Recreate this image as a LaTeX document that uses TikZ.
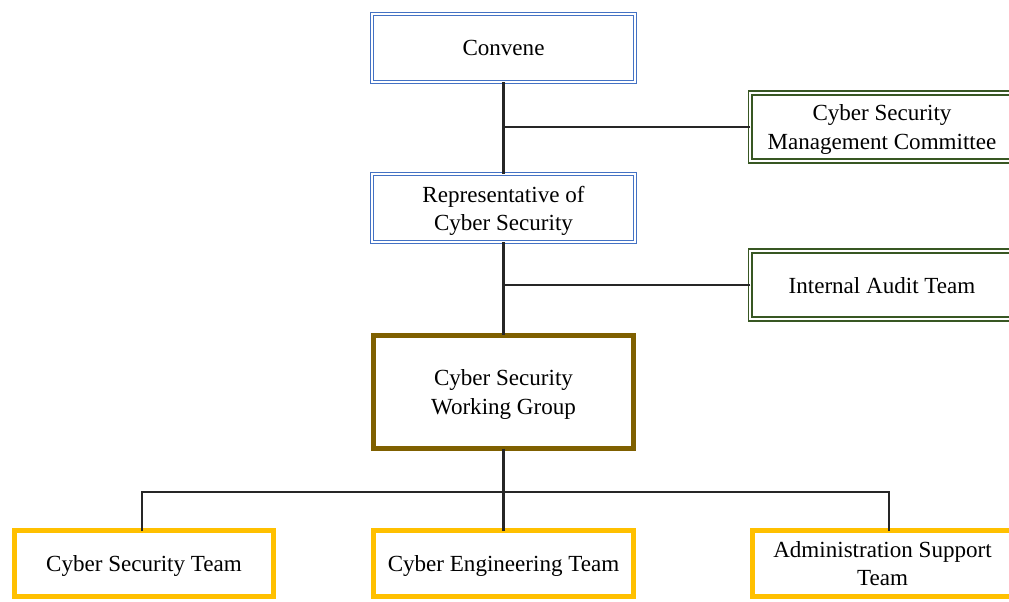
\documentclass[tikz,border=0pt]{standalone}
\usepackage{fontspec}
\setmainfont{Liberation Serif}
\usetikzlibrary{calc,positioning}
\definecolor{boardblue}{HTML}{4472C4}
\definecolor{boardgreen}{HTML}{385723}
\definecolor{groupbrown}{HTML}{7F6000}
\definecolor{teamyellow}{HTML}{FFC000}
\definecolor{linkgray}{HTML}{262626}

\begin{document}
\begin{tikzpicture}[x=0.025cm, y=-0.025cm,
		font=\fontsize{16.4}{20}\selectfont,
		every node/.style={align=center, inner sep=0pt, outer sep=0pt, fill=white},
		boardbox/.style={draw=boardblue, double=white, line width=0.9pt, double distance=1.4pt,
			minimum width=6.58cm, minimum height=1.7cm, text depth=-0.1cm},
		sidebox/.style={boardbox, draw=boardgreen, line width=1.1pt},
		groupbox/.style={draw=groupbrown, line width=3.6pt, minimum width=6.5cm, minimum height=2.83cm,
			text depth=-0.12cm},
		teambox/.style={draw=teamyellow, line width=3.6pt, minimum width=6.48cm, minimum height=1.65cm,
			text depth=-0.12cm},
		link/.style={draw=linkgray, line width=1.8pt}]
		\useasboundingbox (0,0) rectangle (1009,601);
		\clip (0,0) rectangle (1009,601);
		\coordinate (bus) at (503.5,492);
		\node[boardbox] (conv) at (503.5,48) {Convene};
		\node[boardbox] (rep) at (503.5,208) {Representative of\\Cyber Security};
		\node[sidebox] (csmc) at (882,127) {Cyber Security\\Management Committee};
		\node[sidebox] (audit) at (882,285) {Internal Audit Team};
		\node[groupbox] (wg) at (503.5,392) {Cyber Security\\Working Group};
		\node[teambox] (cst) at (144,563.5) {Cyber Security Team};
		\node[teambox] (cet) at (503.5,563.5) {Cyber Engineering Team};
		\node[teambox] (ast) at (882.5,563.5) {Administration Support\\Team};
		\coordinate (cstdrop) at ([xshift=-0.05cm]cst.north);
		\coordinate (astdrop) at ([xshift=0.16cm]ast.north);
		\draw[link] (conv.south) -- (rep.north);
		\draw[link] (csmc.west) -- (csmc.west -| conv.south);
		\draw[link] (rep.south) -- (wg.north);
		\draw[link] (audit.west) -- (audit.west -| rep.south);
		\draw[link] (wg.south) -- (cet.north);
		\draw[link] (cstdrop) |- (bus) -| (astdrop);
\end{tikzpicture}
\end{document}
